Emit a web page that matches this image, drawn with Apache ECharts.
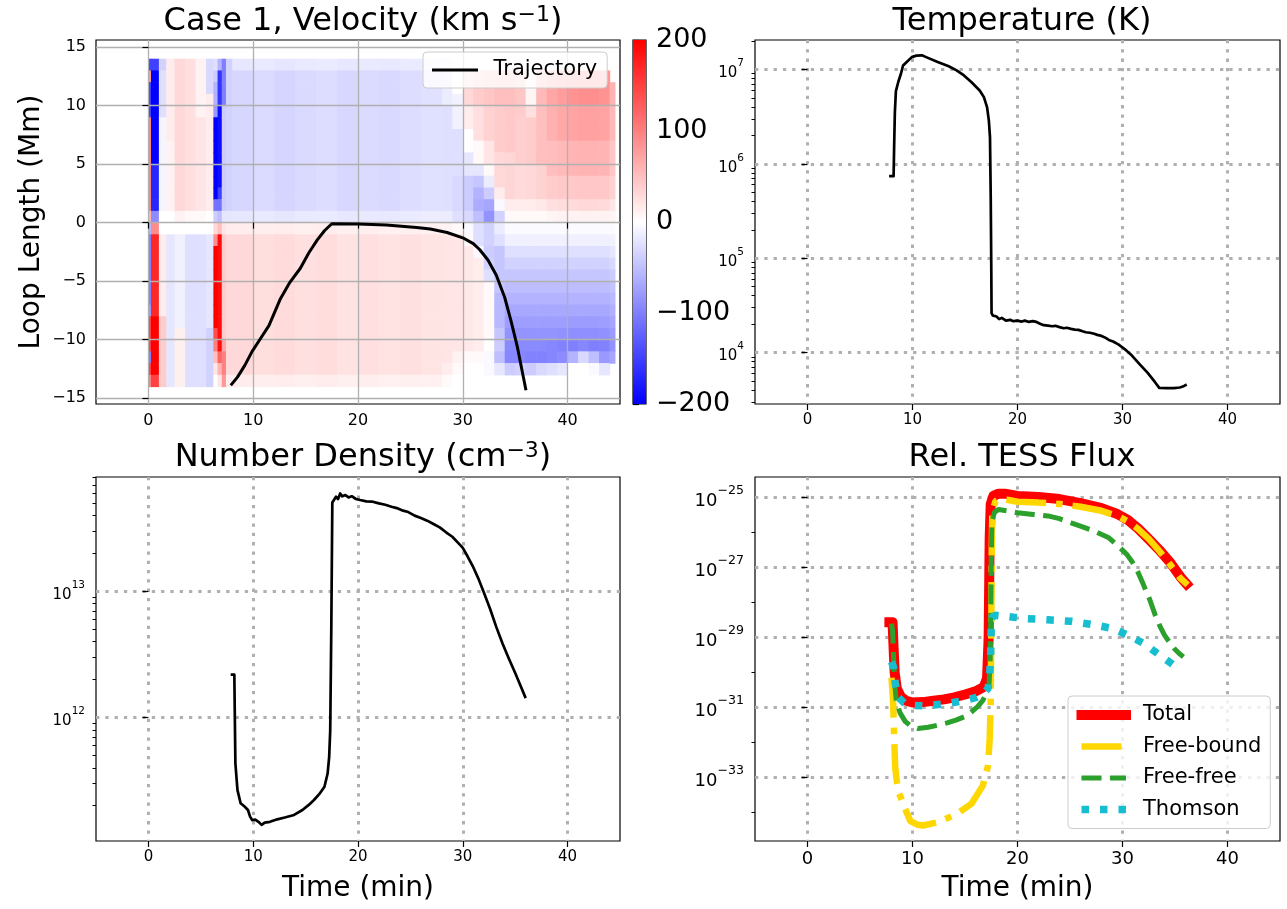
<!DOCTYPE html>
<html>
<head>
<meta charset="utf-8">
<script src="https://cdn.jsdelivr.net/npm/echarts@6/dist/echarts.min.js"></script>
<style>
  html, body { margin: 0; padding: 0; background: #ffffff; }
  #chart { width: 1287px; height: 909px; }
</style>
</head>
<body>
<div id="chart"></div>
<script>
// ---------------------------------------------------------------
// Data
// ---------------------------------------------------------------
const timeTicks = [0, 10, 20, 30, 40];
const loopTicks = [-15, -10, -5, 0, 5, 10, 15];
const colorbarTicks = [-200, -100, 0, 100, 200];
const tempTicks = [1e4, 1e5, 1e6, 1e7];
const densityTicks = [1e12, 1e13];
const fluxDecadeTicks = [-33, -31, -29, -27, -25];      // exponents of labelled flux ticks
const fluxMinorDecades = [-34, -32, -30, -28, -26];

// Velocity map: column boundaries in time (min), row boundaries in loop length (Mm)
const velTimeEdges = [0, 0.25, 1.0, 1.7, 2.5, 3.5, 4.5, 5.5, 6.2, 6.6, 7.0, 7.4, 8, 10, 12, 14, 16, 18, 20, 22, 24, 26, 28,
  29, 30, 31, 32, 33, 34, 35, 36, 37, 38, 39, 40, 41, 42, 43, 44, 44.5];
const loopEdges = [14, 13, 12, 11, 10, 9, 8, 7, 6, 5, 4, 3, 2, 1, 0, -1, -2, -3, -4, -5, -6, -7, -8, -9, -10, -11, -12, -13, -14];

// Velocity (km/s), one list per time column, rows from +13.5 Mm down to -13.5 Mm
const velocityColumns = [
  [-150, 80, -150, -150, -150, 100, 100, 100, 100, 100, 100, 100, 100, 60, -60, -100, -100, -100, -100, -100, -100, -80, 150, 150, 150, -100, 150, 100],
  [-150, -200, -200, -200, -200, -200, -200, -200, -200, -170, -170, -170, -170, -90, 90, 170, 170, 170, 170, 170, 170, 170, 200, 200, 200, 200, 200, 150],
  [-35, -25, -25, -25, -25, -8, -8, -8, -8, -8, -8, -8, -8, 0, 0, 15, 15, 15, 15, 15, 15, 15, 40, 40, 40, 40, 40, 40],
  [15, 15, 15, 15, 15, 15, 15, 10, 10, 10, 10, 10, 10, 0, 0, -20, -20, -20, -20, -20, -20, -20, -20, -20, -20, -20, -20, -20],
  [30, 30, 30, 30, 30, 30, 30, 30, 30, 30, 30, 30, 30, 10, 0, -12, -12, -12, -12, -12, -12, -12, -12, 12, 12, 12, 12, 12],
  [25, 25, 25, 25, 25, 25, 25, 25, 25, 25, 25, 25, 25, 5, 0, -25, -25, -25, -25, -25, -25, -25, -25, -25, -25, -25, -25, -25],
  [10, 10, 10, 10, 10, 20, 20, 20, 20, 20, 20, 20, 20, 5, 0, -25, -25, -25, -25, -25, -25, -25, -25, -25, -25, -25, -25, -25],
  [-30, -30, -30, 15, 15, 15, 15, 15, 15, 15, 15, 15, 15, 0, 0, -20, -20, -20, -20, -20, -20, -20, -20, -35, -35, -35, -35, -35],
  [-25, -40, -60, -60, -80, -200, -200, -200, -200, -200, -200, -200, -110, -40, 30, 90, 200, 200, 200, 200, 200, 200, 200, 140, 100, 50, 20, 0],
  [-60, -160, -160, -160, -190, -190, -190, -190, -190, -190, -190, -150, -110, -50, 50, 190, 190, 190, 190, 190, 190, 190, 190, 190, 190, 120, 60, 20],
  [-100, -100, -100, -100, -40, -40, -40, -40, -40, -40, -40, -40, -40, -20, 20, 40, 40, 40, 40, 40, 40, 40, 40, 40, 70, 100, 100, 80],
  [-35, -35, -35, -35, -35, -35, -35, -35, -35, -35, -35, -35, -35, -20, 15, 30, 30, 30, 30, 30, 30, 30, 30, 30, 30, 30, 30, 15],
  [-19, -32, -32, -32, -32, -32, -32, -32, -32, -32, -32, -32, -32, -19, 15, 30, 30, 30, 30, 30, 30, 30, 30, 30, 30, 30, 30, 15],
  [-17, -28, -28, -28, -28, -28, -28, -28, -28, -28, -28, -28, -28, -17, 13, 26, 26, 26, 26, 26, 26, 26, 26, 26, 26, 26, 26, 13],
  [-20, -33, -33, -33, -33, -33, -33, -33, -33, -33, -33, -33, -33, -20, 14, 28, 28, 28, 28, 28, 28, 28, 28, 28, 28, 28, 28, 14],
  [-17, -29, -29, -29, -29, -29, -29, -29, -29, -29, -29, -29, -29, -17, 12, 24, 24, 24, 24, 24, 24, 24, 24, 24, 24, 24, 24, 12],
  [-16, -27, -27, -27, -27, -27, -27, -27, -27, -27, -27, -27, -27, -16, 14, 27, 27, 27, 27, 27, 27, 27, 27, 27, 27, 27, 27, 14],
  [-19, -31, -31, -31, -31, -31, -31, -31, -31, -31, -31, -31, -31, -19, 12, 23, 23, 23, 23, 23, 23, 23, 23, 23, 23, 23, 23, 12],
  [-17, -28, -28, -28, -28, -28, -28, -28, -28, -28, -28, -28, -28, -17, 13, 25, 25, 25, 25, 25, 25, 25, 25, 25, 25, 25, 25, 13],
  [-18, -30, -30, -30, -30, -30, -30, -30, -30, -30, -30, -30, -30, -18, 11, 22, 22, 22, 22, 22, 22, 22, 22, 22, 22, 22, 22, 11],
  [-16, -27, -27, -27, -27, -27, -27, -27, -27, -27, -27, -27, -27, -16, 12, 24, 24, 24, 24, 24, 24, 24, 24, 24, 24, 24, 24, 12],
  [-14, -24, -24, -24, -24, -24, -24, -24, -24, -24, -24, -24, -24, -14, 11, 21, 21, 21, 21, 21, 21, 21, 21, 21, 21, 21, 21, 11],
  [-10, -15, -15, -15, -25, -25, -25, -25, -25, -25, -25, -25, -25, -15, 10, 20, 20, 20, 20, 20, 20, 20, 20, 20, 20, 20, 15, 5],
  [0, 0, 0, -10, -10, -10, -25, -25, -25, -25, -30, -30, -30, -25, 5, 20, 20, 20, 20, 20, 20, 20, 20, 20, 20, 10, 5, 0],
  [null, 30, 30, 30, 15, 15, 0, 0, -20, -20, -40, -40, -40, -30, -5, 5, 18, 18, 18, 18, 18, 18, 18, 18, 18, 5, 0, null],
  [null, 40, 40, 40, 25, 25, 25, 5, 5, -20, -45, -60, -65, -50, -25, -25, -5, 15, 15, 15, 15, 15, 15, 15, 15, 5, 0, null],
  [null, 45, 45, 45, 35, 35, 35, 20, 20, 5, -15, -40, -70, -85, -35, -35, -40, -35, -25, 5, 5, 5, 5, 5, 0, -5, -5, null],
  [null, 50, 50, 50, 40, 40, 40, 40, 30, 30, 30, 15, -5, -35, -15, -25, -45, -45, -45, -45, -55, -55, -55, -45, -40, -50, -20, null],
  [null, 50, 50, 50, 42, 42, 42, 42, 32, 32, 32, 32, 15, 5, -3, -12, -25, -35, -45, -52, -60, -68, -76, -84, -92, -95, -40, null],
  [null, 45, 45, 45, 40, 38, 38, 38, 38, 28, 28, 28, 15, 5, -3, -12, -25, -35, -45, -52, -60, -68, -76, -84, -92, -95, -35, null],
  [null, 8, 8, 8, 25, 40, 40, 40, 40, 30, 30, 30, 15, 5, -3, -12, -25, -35, -45, -52, -60, -68, -76, -84, -92, -98, -40, null],
  [null, 55, 55, 55, 50, 50, 50, 50, 50, 35, 35, 35, 18, 5, -3, -12, -25, -35, -45, -52, -60, -68, -76, -84, -92, -98, -30, null],
  [null, 70, 70, 70, 62, 62, 62, 52, 52, 52, 40, 40, 25, 8, -3, -12, -25, -35, -45, -52, -60, -68, -76, -84, -95, -95, -25, null],
  [null, 78, 78, 78, 68, 68, 68, 55, 55, 55, 42, 42, 27, 10, -3, -12, -25, -35, -45, -52, -60, -68, -76, -86, -98, -90, -20, null],
  [null, 85, 85, 85, 72, 72, 72, 58, 58, 58, 42, 42, 28, 10, -3, -12, -25, -35, -45, -52, -60, -68, -78, -88, -100, -60, 0, null],
  [null, 88, 88, 88, 74, 74, 74, 60, 60, 60, 44, 44, 30, 10, -3, -12, -25, -35, -45, -52, -60, -68, -78, -88, -95, -30, 0, null],
  [null, 88, 88, 88, 74, 74, 74, 60, 60, 60, 44, 44, 30, 10, -3, -12, -25, -35, -45, -52, -60, -68, -78, -88, -100, -50, -5, null],
  [null, 80, 85, 85, 72, 72, 72, 58, 58, 58, 42, 42, 28, 10, -3, -12, -25, -35, -45, -52, -60, -68, -76, -86, -98, -80, -20, null],
  [null, null, 60, 60, 55, 55, 55, 45, 45, 45, 35, 35, 20, 8, -3, -10, -20, -30, -40, -47, -55, -62, -70, -78, -85, -70, null, null]
];

// Trajectory: [time (min), loop position (Mm)]
const trajectory = [
  [7.95, -13.8], [8.5, -13.2], [9.2, -12.2], [9.9, -11.0], [10.7, -9.9], [11.5, -8.8], [12.6, -6.5], [13.5, -5.1],
  [14.5, -3.9], [15.3, -2.6], [16.1, -1.5], [16.8, -0.7], [17.5, -0.1], [20, -0.12], [22.7, -0.2], [25.6, -0.42],
  [26.9, -0.55], [28.5, -0.85], [30.0, -1.3], [31.0, -1.8], [31.6, -2.3], [32.4, -3.2], [33.2, -4.5], [34.0, -6.4],
  [34.6, -8.4], [35.2, -10.6], [35.6, -12.4], [36.0, -14.2]
];

// Temperature: [time (min), K]
const temperature = [
  [7.9, 7.4e5], [8.2, 7.4e5], [8.25, 1.5e6], [8.32, 3.5e6], [8.42, 5.9e6], [8.65, 7.4e6], [8.9, 9.0e6], [9.1, 1.10e7],
  [9.45, 1.20e7], [9.93, 1.35e7], [10.36, 1.40e7], [10.9, 1.41e7], [11.3, 1.35e7], [12.4, 1.20e7], [13.45, 1.08e7],
  [14.2, 9.76e6], [14.9, 8.63e6], [15.6, 7.35e6], [16.4, 5.98e6], [16.8, 5.09e6], [17.1, 3.99e6], [17.27, 2.88e6],
  [17.38, 1.92e6], [17.45, 4.44e5], [17.5, 8.71e4], [17.53, 2.61e4], [17.64, 2.47e4], [17.8, 2.37e4], [18.0, 2.41e4],
  [18.25, 2.26e4], [18.5, 2.33e4], [18.9, 2.18e4], [19.3, 2.22e4], [19.6, 2.15e4], [20.0, 2.18e4], [20.4, 2.13e4],
  [20.7, 2.18e4], [21.1, 2.11e4], [21.45, 2.15e4], [21.6, 2.05e4], [21.8, 2.11e4], [22.2, 2.01e4], [22.5, 1.95e4],
  [22.9, 1.93e4], [23.3, 1.90e4], [23.6, 1.92e4], [24.0, 1.86e4], [24.4, 1.81e4], [24.7, 1.83e4], [25.1, 1.78e4],
  [25.45, 1.75e4], [25.8, 1.74e4], [26.2, 1.68e4], [26.5, 1.64e4], [26.9, 1.62e4], [27.3, 1.58e4], [27.6, 1.54e4],
  [28.0, 1.50e4], [28.4, 1.43e4], [28.7, 1.36e4], [29.1, 1.31e4], [29.6, 1.22e4], [30.2, 1.09e4], [30.9, 9.29e3],
  [31.6, 7.59e3], [32.4, 6.08e3], [33.1, 4.85e3], [33.5, 4.22e3], [34.2, 4.20e3], [34.9, 4.20e3], [35.45, 4.26e3],
  [35.75, 4.36e3], [36.0, 4.51e3]
];

// Number density: [time (min), cm^-3]
const density = [
  [7.98, 2.19e12], [8.2, 2.19e12], [8.3, 4.33e11], [8.5, 2.66e11], [8.8, 2.09e11], [9.2, 1.96e11], [9.5, 1.85e11],
  [9.7, 1.64e11], [9.9, 1.54e11], [10.2, 1.55e11], [10.5, 1.49e11], [10.8, 1.41e11], [11.1, 1.47e11], [11.6, 1.49e11],
  [12.3, 1.56e11], [13.1, 1.62e11], [13.9, 1.69e11], [14.7, 1.85e11], [15.3, 2.03e11], [15.8, 2.22e11], [16.3, 2.47e11],
  [16.8, 2.83e11], [17.1, 3.60e11], [17.25, 4.89e11], [17.35, 7.94e11], [17.45, 4.91e12], [17.55, 5.09e13],
  [17.7, 5.25e13], [17.9, 5.65e13], [18.1, 5.42e13], [18.3, 6.0e13], [18.5, 5.69e13], [18.8, 5.82e13], [19.1, 5.58e13],
  [19.4, 5.70e13], [19.8, 5.42e13], [20.2, 5.32e13], [20.8, 5.19e13], [21.4, 5.16e13], [22.0, 5.00e13], [22.6, 4.88e13],
  [23.2, 4.71e13], [23.7, 4.59e13], [24.3, 4.38e13], [24.8, 4.27e13], [25.4, 4.00e13], [26.0, 3.83e13], [26.6, 3.65e13],
  [27.2, 3.43e13], [27.8, 3.23e13], [28.4, 2.95e13], [29.0, 2.72e13], [29.6, 2.41e13], [30.0, 2.22e13], [30.5, 1.87e13],
  [31.0, 1.56e13], [31.5, 1.26e13], [32.0, 9.88e12], [32.6, 7.30e12], [33.2, 5.22e12], [33.8, 3.85e12], [34.4, 2.93e12],
  [35.0, 2.26e12], [35.5, 1.80e12], [35.95, 1.46e12]
];

// Relative TESS flux components: [time (min), flux]
const fluxTotal = [
  [7.8, 2.75e-29], [8.1, 2.75e-29], [8.2, 5.0e-30], [8.3, 1.0e-30], [8.5, 3.5e-31], [8.9, 2.0e-31], [9.4, 1.55e-31],
  [10.0, 1.38e-31], [11.0, 1.42e-31], [12.0, 1.55e-31], [13.0, 1.70e-31], [14.0, 1.95e-31], [15.0, 2.34e-31],
  [16.0, 2.88e-31], [16.8, 3.89e-31], [17.1, 6.8e-31], [17.25, 9.5e-30], [17.35, 7.1e-27], [17.45, 6.5e-26],
  [17.7, 1.12e-25], [18.2, 1.30e-25], [18.8, 1.30e-25], [20, 1.12e-25], [22, 1.04e-25], [24, 9.1e-26], [26, 7.0e-26],
  [28, 5.0e-26], [29.5, 3.4e-26], [30.5, 2.3e-26], [31.5, 1.3e-26], [32.5, 6.5e-27], [33.5, 3.2e-27], [34.5, 1.45e-27],
  [35.5, 5.5e-28], [36.1, 3.4e-28]
];
const fluxFreeBound = [
  [8.0, 7.1e-31], [8.15, 1.6e-31], [8.25, 1.6e-32], [8.35, 2.0e-33], [8.5, 7.9e-34], [8.7, 3.7e-34], [9.3, 1.26e-34],
  [9.8, 5.6e-35], [10.5, 4.4e-35], [11.0, 4.2e-35], [12.4, 5.2e-35], [14.2, 8.9e-35], [15.6, 1.74e-34], [16.7, 5.8e-34],
  [17.2, 2.2e-33], [17.35, 1.26e-32], [17.45, 1.26e-31], [17.5, 1.0e-29], [17.55, 3.2e-27], [17.6, 4.0e-26],
  [17.9, 7.9e-26], [18.3, 9.3e-26], [19, 8.7e-26], [20, 7.6e-26], [22, 7.2e-26], [24, 6.6e-26], [26, 5.5e-26],
  [28, 4.2e-26], [29.5, 3.0e-26], [30.5, 2.1e-26], [31.5, 1.26e-26], [32.5, 6.6e-27], [33.5, 3.0e-27], [34.5, 1.26e-27],
  [35.5, 5.0e-28], [36.2, 3.2e-28]
];
const fluxFreeFree = [
  [8.0, 2.5e-29], [8.1, 1.6e-29], [8.2, 2.5e-30], [8.3, 5.0e-31], [8.45, 1.6e-31], [8.8, 7.1e-32], [9.3, 4.0e-32],
  [9.8, 3.0e-32], [10.5, 2.5e-32], [11.5, 2.7e-32], [12.4, 3.1e-32], [13.3, 3.6e-32], [14.2, 4.4e-32], [15.0, 5.5e-32],
  [15.6, 7.4e-32], [16.2, 1.05e-31], [16.7, 1.6e-31], [17.1, 2.8e-31], [17.3, 5.0e-31], [17.4, 2.5e-30], [17.45, 3.2e-29],
  [17.5, 1.6e-27], [17.56, 2.1e-26], [17.8, 3.8e-26], [18.2, 4.6e-26], [19, 4.2e-26], [20, 3.7e-26], [21.5, 3.3e-26],
  [22.9, 3.0e-26], [24, 2.5e-26], [25.1, 1.9e-26], [26.2, 1.45e-26], [27.3, 1.1e-26], [28.7, 7.1e-27], [29.8, 3.6e-27],
  [30.4, 2.4e-27], [30.9, 1.5e-27], [31.5, 7.1e-28], [32.0, 3.2e-28], [32.6, 1.2e-28], [33.1, 4.5e-29], [33.6, 2.0e-29],
  [34.0, 1.17e-29], [34.5, 7.1e-30], [34.9, 4.9e-30], [35.4, 3.5e-30], [35.8, 2.8e-30]
];
const fluxThomson = [
  [8.0, 2.0e-30], [8.2, 1.4e-30], [8.35, 5.0e-31], [8.6, 2.0e-31], [9.2, 1.35e-31], [10, 1.15e-31], [11, 1.12e-31],
  [12, 1.17e-31], [13, 1.26e-31], [14, 1.41e-31], [15, 1.58e-31], [16, 1.9e-31], [16.8, 2.5e-31], [17.2, 3.5e-31],
  [17.35, 7.9e-31], [17.45, 4.0e-30], [17.5, 2.5e-29], [17.6, 3.8e-29], [17.9, 4.3e-29], [18.9, 4.0e-29], [20.7, 3.5e-29],
  [22.9, 3.2e-29], [25.1, 2.9e-29], [27.3, 2.3e-29], [29.1, 1.8e-29], [30.5, 1.17e-29], [32.0, 6.8e-30], [33.5, 3.2e-30],
  [34.9, 1.6e-30], [35.5, 1.1e-30]
];

// ---------------------------------------------------------------
// Helpers
// ---------------------------------------------------------------
const FONT = 'DejaVu Sans';
const MINUS = '\u2212';

function minorLogTicks(lo, hi) {
  const out = [];
  for (let e = Math.floor(Math.log10(lo)); e <= Math.ceil(Math.log10(hi)); e++) {
    for (let m = 2; m <= 9; m++) {
      const v = m * Math.pow(10, e);
      if (v >= lo && v <= hi) out.push(v);
    }
  }
  return out;
}
function signed(v) { return String(v).replace('-', MINUS); }
function powLabel(exp) { return '{b|10}{s|' + signed(exp) + '}'; }
function powFormatter(v) { return powLabel(Math.round(Math.log10(v))); }
function expFormatter(v) { return powLabel(Math.round(v)); }
function powRich(base, sup) {
  return {
    b: { fontSize: base, fontFamily: FONT, color: '#000', lineHeight: base + 8, verticalAlign: 'bottom' },
    s: { fontSize: sup, fontFamily: FONT, color: '#000', lineHeight: sup + 1, verticalAlign: 'top' }
  };
}
// The flux panel spans ten decades: its axis runs in decades (log10 of the flux)
function toDecades(series) { return series.map(function (p) { return [p[0], Math.log10(p[1])]; }); }

// Velocity map cells: [t0, t1, yBottom, yTop, v]
const heatCells = [];
velocityColumns.forEach(function (col, i) {
  col.forEach(function (v, j) {
    if (v === null) return;
    heatCells.push([velTimeEdges[i], velTimeEdges[i + 1], loopEdges[j + 1], loopEdges[j], v]);
  });
});

function renderCell(params, api) {
  const a = api.coord([api.value(0), api.value(3)]);
  const b = api.coord([api.value(1), api.value(2)]);
  return {
    type: 'rect',
    shape: { x: a[0], y: a[1], width: b[0] - a[0] + 0.7, height: b[1] - a[1] + 0.7 },
    style: { fill: api.visual('color') }
  };
}
function renderColorbar(params, api) {
  const a = api.coord([api.value(0), api.value(3)]);
  const b = api.coord([api.value(1), api.value(2)]);
  return {
    type: 'rect',
    shape: { x: a[0], y: a[1], width: b[0] - a[0], height: b[1] - a[1] },
    style: {
      fill: new echarts.graphic.LinearGradient(0, 0, 0, 1, [
        { offset: 0, color: '#ff0000' },
        { offset: 0.5, color: '#ffffff' },
        { offset: 1, color: '#0000ff' }
      ])
    }
  };
}

// ---------------------------------------------------------------
// Axes
// ---------------------------------------------------------------
const tickStyle = { color: '#000', width: 1.2 };
const dottedGrid = { show: true, lineStyle: { color: '#b0b0b0', width: 3, type: [3.3, 6] } };

function timeAxis(gridIndex, fontSize, withName, extra) {
  const ax = {
    gridIndex: gridIndex, type: 'value', min: -5, max: 45,
    axisLine: { show: false },
    axisTick: { show: true, customValues: timeTicks, length: 6, lineStyle: tickStyle },
    axisLabel: { customValues: timeTicks, fontSize: fontSize, fontFamily: FONT, color: '#000', margin: 9 },
    splitLine: dottedGrid
  };
  if (withName) {
    ax.name = 'Time (min)';
    ax.nameLocation = 'middle';
    ax.nameGap = 34;
    ax.nameTextStyle = { fontSize: 28, fontFamily: FONT, color: '#000' };
  }
  return Object.assign(ax, extra || {});
}
function logMajorAxis(gridIndex, lo, hi, ticks, base, sup) {
  return {
    gridIndex: gridIndex, type: 'log', logBase: 10, min: lo, max: hi, position: 'left',
    axisLine: { show: false },
    axisTick: { show: true, customValues: ticks, length: 6, lineStyle: tickStyle },
    axisLabel: { customValues: ticks, formatter: powFormatter, rich: powRich(base, sup), margin: 11 },
    splitLine: dottedGrid
  };
}
function logMinorAxis(gridIndex, lo, hi, ticks) {
  return {
    gridIndex: gridIndex, type: 'log', logBase: 10, min: lo, max: hi, position: 'left',
    axisLine: { show: false },
    axisTick: { show: true, customValues: ticks, length: 3.5, lineStyle: { color: '#000', width: 1 } },
    axisLabel: { show: false },
    splitLine: { show: false }
  };
}

const tempMin = 2850, tempMax = 2.05e7;
const densMin = 1.05e11, densMax = 8.1e13;
const fluxDecadeMin = -34.82, fluxDecadeMax = -24.41;

const frame = { show: true, borderColor: '#000', borderWidth: 1.2, backgroundColor: 'transparent' };

function titleRich(size) {
  return {
    a: { fontSize: size, fontWeight: 'normal', fontFamily: FONT, color: '#000', lineHeight: 34, verticalAlign: 'bottom' },
    s: { fontSize: Math.round(size * 0.7), fontWeight: 'normal', fontFamily: FONT, color: '#000', lineHeight: 16, verticalAlign: 'top' }
  };
}

const option = {
  animation: false,
  backgroundColor: '#ffffff',
  textStyle: { fontFamily: FONT },
  title: [
    { text: '{a|Case 1, Velocity (km s}{s|' + MINUS + '1}{a|)}', left: 358, top: -1, textAlign: 'center',
      textStyle: { fontWeight: 'normal', rich: titleRich(32) } },
    { text: '{a|Temperature (K)}', left: 1017, top: -1, textAlign: 'center',
      textStyle: { fontWeight: 'normal', rich: titleRich(32) } },
    { text: '{a|Number Density (cm}{s|' + MINUS + '3}{a|)}', left: 358, top: 435, textAlign: 'center',
      textStyle: { fontWeight: 'normal', rich: titleRich(32) } },
    { text: '{a|Rel. TESS Flux}', left: 1017, top: 435, textAlign: 'center',
      textStyle: { fontWeight: 'normal', rich: titleRich(32) } }
  ],
  grid: [
    Object.assign({ left: 96, top: 40, width: 524, height: 364 }, frame),
    Object.assign({ left: 633, top: 40, width: 13, height: 364 }, frame),
    Object.assign({ left: 755, top: 40, width: 525, height: 364 }, frame),
    Object.assign({ left: 96, top: 477, width: 524, height: 364 }, frame),
    Object.assign({ left: 755, top: 477, width: 525, height: 364 }, frame)
  ],
  xAxis: [
    timeAxis(0, 16, false, { z: 3, splitLine: { show: true, lineStyle: { color: '#b0b0b0', width: 1.3 } } }),
    { gridIndex: 1, type: 'value', min: 0, max: 1, show: false },
    timeAxis(2, 15, false),
    timeAxis(3, 15, true),
    timeAxis(4, 18, true)
  ],
  yAxis: [
    {
      gridIndex: 0, type: 'value', min: -15.5, max: 15.6, z: 3, position: 'left',
      axisLine: { show: false },
      axisTick: { show: true, customValues: loopTicks, length: 6, lineStyle: tickStyle },
      axisLabel: { customValues: loopTicks, fontSize: 16, fontFamily: FONT, color: '#000', margin: 10, formatter: signed },
      splitLine: { show: true, lineStyle: { color: '#b0b0b0', width: 1.3 } },
      name: 'Loop Length (Mm)', nameLocation: 'middle', nameGap: 50,
      nameTextStyle: { fontSize: 28, fontFamily: FONT, color: '#000' }
    },
    {
      gridIndex: 1, type: 'value', min: -200, max: 200, position: 'right',
      axisLine: { show: false },
      axisTick: { show: true, customValues: colorbarTicks, length: 6, lineStyle: tickStyle },
      axisLabel: { customValues: colorbarTicks, fontSize: 27, fontFamily: FONT, color: '#000', margin: 10, formatter: signed },
      splitLine: { show: false }
    },
    logMajorAxis(2, tempMin, tempMax, tempTicks, 15, 10.5),
    logMinorAxis(2, tempMin, tempMax, minorLogTicks(tempMin, tempMax)),
    logMajorAxis(3, densMin, densMax, densityTicks, 15, 10.5),
    logMinorAxis(3, densMin, densMax, minorLogTicks(densMin, densMax)),
    {
      gridIndex: 4, type: 'value', min: fluxDecadeMin, max: fluxDecadeMax, position: 'left',
      axisLine: { show: false },
      axisTick: { show: true, customValues: fluxDecadeTicks, length: 6, lineStyle: tickStyle },
      axisLabel: { customValues: fluxDecadeTicks, formatter: expFormatter, rich: powRich(18, 12.6), margin: 11 },
      splitLine: dottedGrid
    },
    {
      gridIndex: 4, type: 'value', min: fluxDecadeMin, max: fluxDecadeMax, position: 'left',
      axisLine: { show: false },
      axisTick: { show: true, customValues: fluxMinorDecades, length: 3.5, lineStyle: { color: '#000', width: 1 } },
      axisLabel: { show: false },
      splitLine: { show: false }
    }
  ],
  visualMap: [{
    type: 'continuous', show: false, seriesIndex: 0, dimension: 4, min: -200, max: 200,
    inRange: { color: ['#0000ff', '#ffffff', '#ff0000'] }
  }],
  legend: [
    {
      data: [{ name: 'Trajectory', lineStyle: { width: 3 } }],
      left: 423, top: 52, orient: 'vertical', itemWidth: 43, itemHeight: 14,
      padding: [5, 10, 5, 9], backgroundColor: 'rgba(255,255,255,0.8)', borderColor: '#cccccc', borderWidth: 1, borderRadius: 4,
      textStyle: { fontSize: 21, fontFamily: FONT, color: '#000', lineHeight: 26, padding: [0, 0, 0, 12] },
      itemStyle: { opacity: 0 }, selectedMode: false
    },
    {
      data: [
        { name: 'Total', lineStyle: { width: 10 } },
        { name: 'Free-bound', lineStyle: { width: 6.5 } },
        { name: 'Free-free', lineStyle: { width: 5 } },
        { name: 'Thomson', lineStyle: { width: 7.5 } }
      ],
      left: 1068, top: 696, orient: 'vertical', itemWidth: 44.5, itemHeight: 14, itemGap: 7.5,
      padding: [7, 9, 7, 8.5], backgroundColor: 'rgba(255,255,255,0.8)', borderColor: '#cccccc', borderWidth: 1, borderRadius: 4,
      textStyle: { fontSize: 21, fontFamily: FONT, color: '#000', lineHeight: 24, padding: [0, 0, 0, 12] },
      itemStyle: { opacity: 0 }, selectedMode: false
    }
  ],
  series: [
    {
      type: 'custom', name: 'Velocity', xAxisIndex: 0, yAxisIndex: 0, z: 1,
      renderItem: renderCell, data: heatCells, encode: { x: [0, 1], y: [2, 3] }, silent: true
    },
    {
      type: 'line', name: 'Trajectory', xAxisIndex: 0, yAxisIndex: 0, z: 5, data: trajectory,
      symbol: 'none', lineStyle: { color: '#000', width: 3, cap: 'square', join: 'round' }, itemStyle: { color: '#000' }
    },
    {
      type: 'custom', name: 'colorbar', xAxisIndex: 1, yAxisIndex: 1, z: 1,
      renderItem: renderColorbar, data: [[0, 1, -200, 200]], encode: { x: [0, 1], y: [2, 3] }, silent: true
    },
    {
      type: 'line', name: 'Temperature', xAxisIndex: 2, yAxisIndex: 2, data: temperature, symbol: 'none',
      lineStyle: { color: '#000', width: 2.7, cap: 'square', join: 'round' }
    },
    {
      type: 'line', name: 'Density', xAxisIndex: 3, yAxisIndex: 4, data: density, symbol: 'none',
      lineStyle: { color: '#000', width: 2.7, cap: 'square', join: 'round' }
    },
    {
      type: 'line', name: 'Total', xAxisIndex: 4, yAxisIndex: 6, data: toDecades(fluxTotal), symbol: 'none',
      lineStyle: { color: '#ff0000', width: 10, cap: 'square', join: 'round' }, itemStyle: { color: '#ff0000' }
    },
    {
      type: 'line', name: 'Free-bound', xAxisIndex: 4, yAxisIndex: 6, data: toDecades(fluxFreeBound), symbol: 'none',
      lineStyle: { color: '#ffd700', width: 6.5, type: [40, 10, 6.5, 10] }, itemStyle: { color: '#ffd700' }
    },
    {
      type: 'line', name: 'Free-free', xAxisIndex: 4, yAxisIndex: 6, data: toDecades(fluxFreeFree), symbol: 'none',
      lineStyle: { color: '#2ca02c', width: 5, type: [20, 8.5] }, itemStyle: { color: '#2ca02c' }
    },
    {
      type: 'line', name: 'Thomson', xAxisIndex: 4, yAxisIndex: 6, data: toDecades(fluxThomson), symbol: 'none',
      lineStyle: { color: '#17becf', width: 7.5, type: [7.5, 11] }, itemStyle: { color: '#17becf' }
    }
  ]
};

const chart = echarts.init(document.getElementById('chart'), null, { renderer: 'canvas' });
chart.setOption(option);
</script>
</body>
</html>
